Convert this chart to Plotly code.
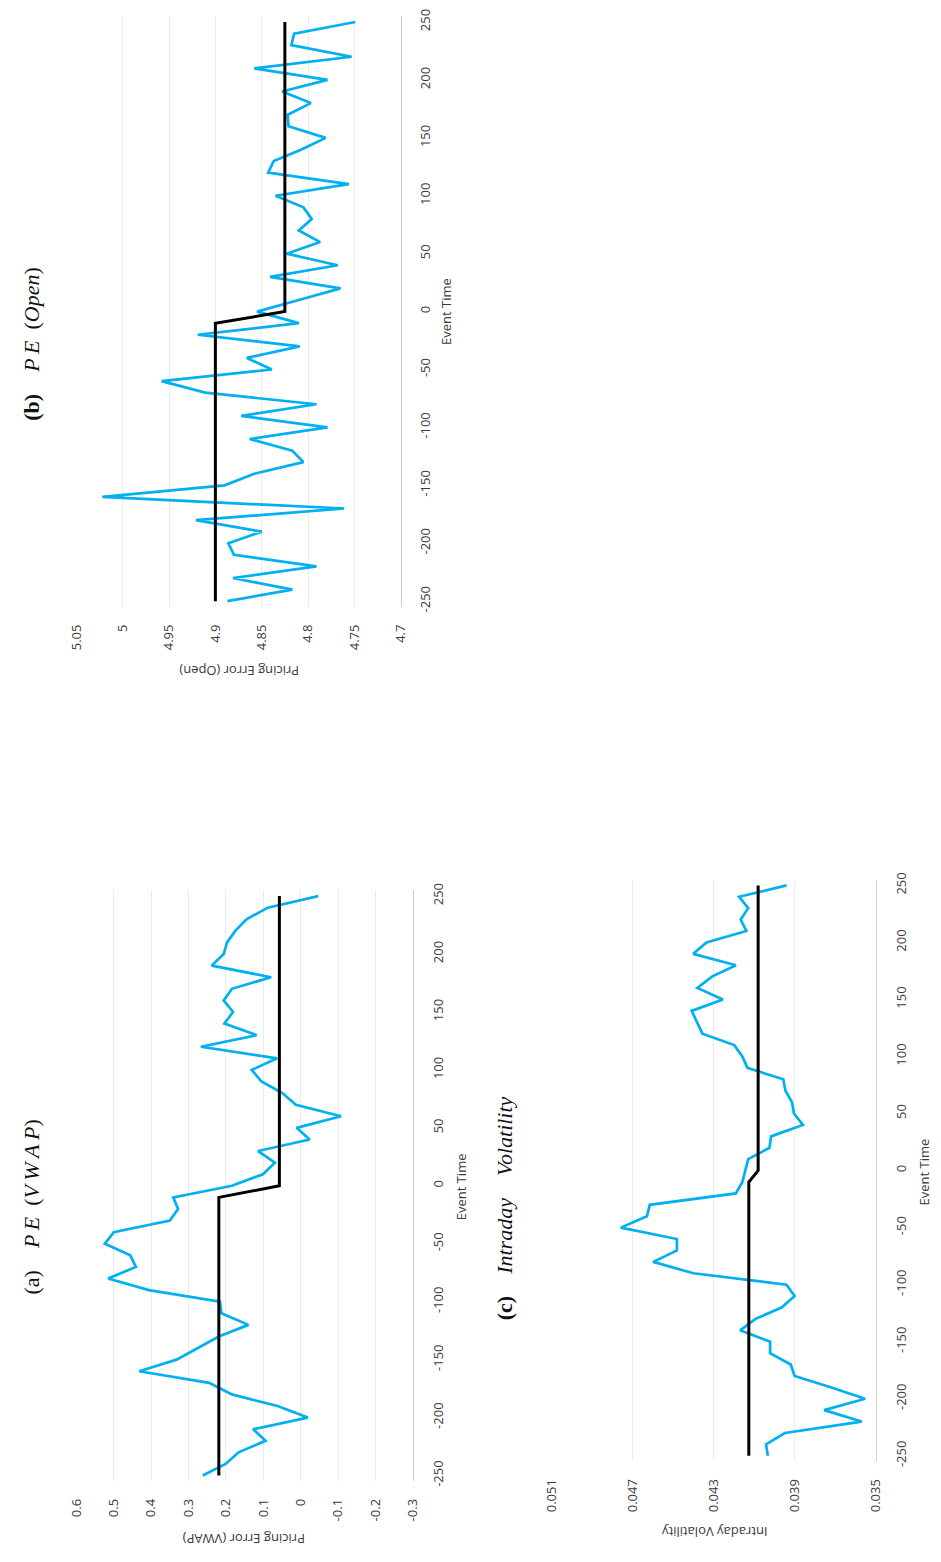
import plotly.graph_objects as go

W, H = 941, 1562

# ---------------- data ----------------
event_time = [-250, -240, -230, -220, -210, -200, -190, -180, -170, -160,
              -150, -140, -130, -120, -110, -100, -90, -80, -70, -60,
              -50, -40, -30, -20, -10, 0, 10, 20, 30, 40,
              50, 60, 70, 80, 90, 100, 110, 120, 130, 140,
              150, 160, 170, 180, 190, 200, 210, 220, 230, 240, 250]

pe_vwap = [0.262, 0.201, 0.166, 0.094, 0.127, -0.019, 0.062, 0.184, 0.245, 0.432,
           0.332, 0.275, 0.219, 0.140, 0.212, 0.216, 0.406, 0.515, 0.441, 0.456,
           0.524, 0.500, 0.350, 0.328, 0.341, 0.184, 0.101, 0.069, 0.114, -0.024,
           0.011, -0.108, 0.013, 0.049, 0.105, 0.131, 0.063, 0.267, 0.118, 0.204,
           0.181, 0.206, 0.184, 0.079, 0.238, 0.206, 0.197, 0.175, 0.145, 0.088, -0.047]

pe_open = [4.887, 4.817, 4.881, 4.791, 4.880, 4.886, 4.850, 4.921, 4.761, 5.022,
           4.890, 4.858, 4.805, 4.817, 4.863, 4.779, 4.872, 4.791, 4.911, 4.958,
           4.839, 4.866, 4.809, 4.919, 4.810, 4.855, 4.810, 4.765, 4.841, 4.768,
           4.823, 4.787, 4.810, 4.796, 4.805, 4.835, 4.756, 4.843, 4.837, 4.807,
           4.781, 4.821, 4.822, 4.797, 4.828, 4.779, 4.858, 4.753, 4.818, 4.815, 4.749]

intraday_vol = [0.04033, 0.04042, 0.03949, 0.03570, 0.03755, 0.03553, 0.03723, 0.03901, 0.03920, 0.04022,
                0.04022, 0.04170, 0.04094, 0.03965, 0.03901, 0.03941, 0.04401, 0.04599, 0.04482, 0.04482,
                0.04759, 0.04630, 0.04616, 0.04191, 0.04159, 0.04146, 0.04130, 0.04025, 0.04017, 0.03860,
                0.03904, 0.03914, 0.03946, 0.03957, 0.04134, 0.04159, 0.04199, 0.04356, 0.04381, 0.04409,
                0.04255, 0.04381, 0.04309, 0.04191, 0.04401, 0.04336, 0.04139, 0.04167, 0.04130, 0.04175, 0.03941]

# mean level lines (pre / post event)
mean_time = [-250, -10, 0, 250]
vwap_mean = [0.219, 0.219, 0.057, 0.057]
open_mean = [4.900, 4.900, 4.825, 4.825]
vol_mean = [0.04127, 0.04127, 0.04081, 0.04081]

event_ticks = [-250, -200, -150, -100, -50, 0, 50, 100, 150, 200, 250]
event_ticktext = ["-250", "-200", "-150", "-100", "-50", "0", "50", "100", "150", "200", "250"]
vwap_ticks = [0.6, 0.5, 0.4, 0.3, 0.2, 0.1, 0.0, -0.1, -0.2, -0.3]
vwap_ticktext = ["0.6", "0.5", "0.4", "0.3", "0.2", "0.1", "0", "-0.1", "-0.2", "-0.3"]
open_ticks = [5.05, 5.0, 4.95, 4.9, 4.85, 4.8, 4.75, 4.7]
open_ticktext = ["5.05", "5", "4.95", "4.9", "4.85", "4.8", "4.75", "4.7"]
vol_ticks = [0.051, 0.047, 0.043, 0.039, 0.035]
vol_ticktext = ["0.051", "0.047", "0.043", "0.039", "0.035"]

TS = "\u2009"  # thin space, mimics math-italic letter spacing
titles = ["(a)\u2003<i>P" + TS + "E</i>\u2002(<i>V" + TS + "W" + TS + "A" + TS + "P</i>)",
          "<b>(b)</b>\u2003<i>P" + TS + "E</i>\u2002(<i>Open</i>)",
          "<b>(c)</b>\u2003<i>Intraday\u2003Volatility</i>"]
value_titles = ["Pricing Error (VWAP)", "Pricing Error (Open)", "Intraday Volatility"]

# ---------------- style ----------------
BLUE = "#00b0f0"
GRID = "#ececec"
AXLINE = "#d0d0d0"
TXT = "#3a3a3a"
FONT = "Open Sans"
TICKSIZE = 13


def px_x(p):
    return p / W


def px_y(p):
    return 1 - p / H


fig = go.Figure()

panels = [
    (pe_vwap, vwap_mean, vwap_ticks, vwap_ticktext, [0.6, -0.3], (67.7, 410.7), (890.7, 1486.7)),
    (pe_open, open_mean, open_ticks, open_ticktext, [5.05, 4.7], (67.7, 398.3), (9.3, 605.0)),
    (intraday_vol, vol_mean, vol_ticks, vol_ticktext, [0.051, 0.035], (552.3, 882.7), (880.0, 1466.7)),
]

for i, (vals, mean, tv, tt, rng, xd, yd) in enumerate(panels):
    n = "" if i == 0 else str(i + 1)
    xa, ya = "x" + n, "y" + n
    fig.add_trace(go.Scatter(x=vals, y=event_time, mode="lines", xaxis=xa, yaxis=ya,
                             line=dict(color=BLUE, width=2.7), showlegend=False,
                             hoverinfo="skip"))
    fig.add_trace(go.Scatter(x=mean, y=mean_time, mode="lines", xaxis=xa, yaxis=ya,
                             line=dict(color="black", width=3), showlegend=False,
                             hoverinfo="skip"))
    fig.layout["xaxis" + n] = dict(
        domain=[px_x(xd[0]), px_x(xd[1])], range=rng, anchor=ya,
        tickvals=tv, ticktext=tt, tickangle=-90, showgrid=True, gridcolor=GRID,
        gridwidth=1, zeroline=False, showline=False, ticks="", ticklabelstandoff=14,
        tickfont=dict(family=FONT, size=TICKSIZE, color=TXT), fixedrange=True)
    fig.layout["yaxis" + n] = dict(
        domain=[px_y(yd[1]), px_y(yd[0])], range=[-255, 255], anchor=xa, side="right",
        tickvals=event_ticks, ticktext=event_ticktext, tickangle=-90, showgrid=False,
        zeroline=False, showline=True, linecolor=AXLINE, linewidth=1.3, ticks="",
        ticklabelstandoff=13,
        tickfont=dict(family=FONT, size=TICKSIZE, color=TXT), fixedrange=True)

ann = []
for txt, (cx, cy) in zip(titles, [(22, 1210), (22, 340), (505, 1211)]):
    ann.append(dict(text=txt, x=px_x(cx), y=px_y(cy), xref="paper", yref="paper",
                    showarrow=False, textangle=-90, xanchor="center", yanchor="middle",
                    font=dict(family="Liberation Serif", size=22, color="#111111")))
for txt, (cx, cy) in zip(value_titles, [(238, 1545), (234, 669), (718, 1538)]):
    ann.append(dict(text=txt, x=px_x(cx), y=px_y(cy), xref="paper", yref="paper",
                    showarrow=False, textangle=180, xanchor="center", yanchor="middle",
                    font=dict(family=FONT, size=TICKSIZE, color=TXT)))
for (cx, cy) in [(460, 1190), (445, 307), (932, 1175)]:
    ann.append(dict(text="Event Time", x=px_x(cx), y=px_y(cy), xref="paper", yref="paper",
                    showarrow=False, textangle=-90, xanchor="center", yanchor="middle",
                    font=dict(family=FONT, size=TICKSIZE, color=TXT)))

fig.update_layout(width=W, height=H, margin=dict(l=0, r=0, t=0, b=0),
                  paper_bgcolor="white", plot_bgcolor="white", annotations=ann,
                  showlegend=False)

fig.write_html("out.html", config={"displayModeBar": False})
